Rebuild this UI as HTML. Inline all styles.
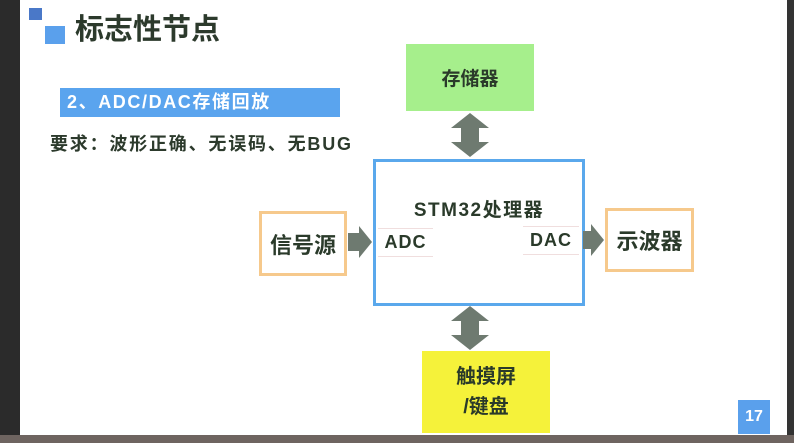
<!DOCTYPE html>
<html><head><meta charset="utf-8"><style>
body{margin:0;width:794px;height:443px;overflow:hidden;background:#fff;position:relative;font-family:"Liberation Sans","Noto Sans CJK SC",sans-serif;}
div{position:absolute;box-sizing:border-box;}
.c{display:flex;align-items:center;justify-content:center;text-align:center;font-weight:bold;color:#2a3a2a;}
</style></head><body>
<div style="left:0;top:0;width:20px;height:443px;background:#2b2b2b"></div>
<div style="left:787px;top:0;width:7px;height:443px;background:#333"></div>
<div style="left:0;top:435px;width:794px;height:8px;background:#6e6460"></div>
<div style="left:29px;top:8px;width:13px;height:12px;background:#4a78c8"></div>
<div style="left:45px;top:26px;width:20px;height:18px;background:#5aa0ec"></div>
<div style="left:75px;top:12px;font-size:29px;font-weight:bold;color:#2c3a2c;line-height:36px">标志性节点</div>
<div style="left:60px;top:88px;width:280px;height:29px;background:#5aa4ee;color:#fff;font-size:18px;font-weight:bold;line-height:29px;padding-left:7px;letter-spacing:1.6px">2、ADC/DAC存储回放</div>
<div style="left:50px;top:132px;font-size:18px;font-weight:bold;color:#2c3a2c;line-height:24px;letter-spacing:1.8px">要求：波形正确、无误码、无BUG</div>
<div class="c" style="left:406px;top:44px;width:128px;height:67px;background:#a6ef8c;font-size:19px">存储器</div>
<div style="left:373px;top:159px;width:212px;height:147px;border:3px solid #5aa8ec"></div>
<div class="c" style="left:376px;top:194px;width:206px;height:28px;font-size:19px;letter-spacing:1.5px">STM32处理器</div>
<div class="c" style="left:378px;top:228px;width:55px;height:29px;font-size:18px;letter-spacing:1px;border-top:1px solid #f0dede;border-bottom:1px solid #f0dede">ADC</div>
<div class="c" style="left:523px;top:226px;width:56px;height:29px;font-size:18px;letter-spacing:1px;border-top:1px solid #f0dede;border-bottom:1px solid #f0dede">DAC</div>
<div class="c" style="left:259px;top:211px;width:88px;height:65px;border:3px solid #f6c98c;font-size:22px">信号源</div>
<div class="c" style="left:605px;top:208px;width:89px;height:64px;border:3px solid #f6c98c;font-size:22px">示波器</div>
<div class="c" style="left:422px;top:351px;width:128px;height:82px;background:#f5f23a;font-size:20px;line-height:30px">触摸屏<br>/键盘</div>
<div class="c" style="left:738px;top:400px;width:32px;height:34px;background:#5aa0ec;color:#fff;font-size:16px">17</div>
<svg width="794" height="443" style="position:absolute;left:0;top:0">
<g fill="#6e7a70">
<polygon points="470,113 489,128 479,128 479,142 489,142 470,157 451,142 461,142 461,128 451,128"/>
<polygon points="470,306 489,321 479,321 479,335 489,335 470,350 451,335 461,335 461,321 451,321"/>
<polygon points="348,233 359,233 359,226 372,242 359,258 359,251 348,251"/>
<polygon points="583,231 591,231 591,224 604,240 591,256 591,249 583,249"/>
</g></svg>
</body></html>
